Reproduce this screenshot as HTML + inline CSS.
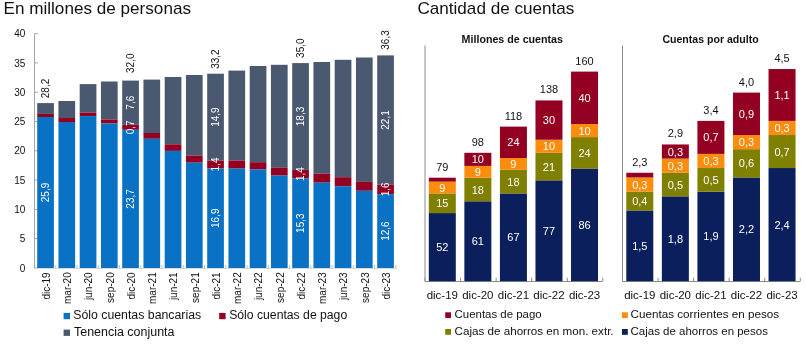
<!DOCTYPE html>
<html><head><meta charset="utf-8"><style>
html,body{margin:0;padding:0;background:#fff;width:806px;height:344px;overflow:hidden}
svg{display:block;font-family:"Liberation Sans", sans-serif;will-change:transform}
</style></head><body>
<svg width="806" height="344" viewBox="0 0 806 344">
<rect width="806" height="344" fill="#fff"/>
<text x="3.50" y="14.00" font-size="17" fill="#111111" text-anchor="start" font-weight="normal" textLength="187.5" lengthAdjust="spacingAndGlyphs">En millones de personas</text>
<text x="417.40" y="14.00" font-size="17" fill="#111111" text-anchor="start" font-weight="normal" textLength="157" lengthAdjust="spacingAndGlyphs">Cantidad de cuentas</text>
<line x1="34.5" y1="33.6" x2="34.5" y2="268.5" stroke="#A6A6A6" stroke-width="1"/>
<line x1="34.5" y1="268.0" x2="38.0" y2="268.0" stroke="#A6A6A6" stroke-width="1"/>
<text x="25.30" y="271.60" font-size="10" fill="#111111" text-anchor="end" font-weight="normal">0</text>
<line x1="34.5" y1="238.7" x2="38.0" y2="238.7" stroke="#A6A6A6" stroke-width="1"/>
<text x="25.30" y="242.30" font-size="10" fill="#111111" text-anchor="end" font-weight="normal">5</text>
<line x1="34.5" y1="209.4" x2="38.0" y2="209.4" stroke="#A6A6A6" stroke-width="1"/>
<text x="25.30" y="213.00" font-size="10" fill="#111111" text-anchor="end" font-weight="normal">10</text>
<line x1="34.5" y1="180.1" x2="38.0" y2="180.1" stroke="#A6A6A6" stroke-width="1"/>
<text x="25.30" y="183.70" font-size="10" fill="#111111" text-anchor="end" font-weight="normal">15</text>
<line x1="34.5" y1="150.8" x2="38.0" y2="150.8" stroke="#A6A6A6" stroke-width="1"/>
<text x="25.30" y="154.40" font-size="10" fill="#111111" text-anchor="end" font-weight="normal">20</text>
<line x1="34.5" y1="121.5" x2="38.0" y2="121.5" stroke="#A6A6A6" stroke-width="1"/>
<text x="25.30" y="125.10" font-size="10" fill="#111111" text-anchor="end" font-weight="normal">25</text>
<line x1="34.5" y1="92.19999999999999" x2="38.0" y2="92.19999999999999" stroke="#A6A6A6" stroke-width="1"/>
<text x="25.30" y="95.80" font-size="10" fill="#111111" text-anchor="end" font-weight="normal">30</text>
<line x1="34.5" y1="62.900000000000006" x2="38.0" y2="62.900000000000006" stroke="#A6A6A6" stroke-width="1"/>
<text x="25.30" y="66.50" font-size="10" fill="#111111" text-anchor="end" font-weight="normal">35</text>
<line x1="34.5" y1="33.599999999999994" x2="38.0" y2="33.599999999999994" stroke="#A6A6A6" stroke-width="1"/>
<text x="25.30" y="37.20" font-size="10" fill="#111111" text-anchor="end" font-weight="normal">40</text>
<rect x="37.20" y="103.10" width="16.70" height="10.80" fill="#4A5970"/>
<rect x="37.20" y="113.90" width="16.70" height="3.10" fill="#940021"/>
<rect x="37.20" y="117.00" width="16.70" height="151.60" fill="#0A72C4"/>
<text transform="translate(49.85,272.30) rotate(-90)" font-size="10" fill="#111111" text-anchor="end" font-weight="normal">dic-19</text>
<rect x="58.45" y="101.00" width="16.70" height="17.00" fill="#4A5970"/>
<rect x="58.45" y="118.00" width="16.70" height="4.00" fill="#940021"/>
<rect x="58.45" y="122.00" width="16.70" height="146.60" fill="#0A72C4"/>
<text transform="translate(71.10,272.30) rotate(-90)" font-size="10" fill="#111111" text-anchor="end" font-weight="normal">mar-20</text>
<rect x="79.70" y="84.10" width="16.70" height="28.60" fill="#4A5970"/>
<rect x="79.70" y="112.70" width="16.70" height="3.40" fill="#940021"/>
<rect x="79.70" y="116.10" width="16.70" height="152.50" fill="#0A72C4"/>
<text transform="translate(92.35,272.30) rotate(-90)" font-size="10" fill="#111111" text-anchor="end" font-weight="normal">jun-20</text>
<rect x="100.95" y="81.50" width="16.70" height="38.00" fill="#4A5970"/>
<rect x="100.95" y="119.50" width="16.70" height="4.00" fill="#940021"/>
<rect x="100.95" y="123.50" width="16.70" height="145.10" fill="#0A72C4"/>
<text transform="translate(113.60,272.30) rotate(-90)" font-size="10" fill="#111111" text-anchor="end" font-weight="normal">sep-20</text>
<rect x="122.20" y="80.60" width="16.70" height="44.20" fill="#4A5970"/>
<rect x="122.20" y="124.80" width="16.70" height="5.00" fill="#940021"/>
<rect x="122.20" y="129.80" width="16.70" height="138.80" fill="#0A72C4"/>
<text transform="translate(134.85,272.30) rotate(-90)" font-size="10" fill="#111111" text-anchor="end" font-weight="normal">dic-20</text>
<rect x="143.45" y="79.60" width="16.70" height="53.40" fill="#4A5970"/>
<rect x="143.45" y="133.00" width="16.70" height="5.80" fill="#940021"/>
<rect x="143.45" y="138.80" width="16.70" height="129.80" fill="#0A72C4"/>
<text transform="translate(156.10,272.30) rotate(-90)" font-size="10" fill="#111111" text-anchor="end" font-weight="normal">mar-21</text>
<rect x="164.70" y="77.00" width="16.70" height="67.30" fill="#4A5970"/>
<rect x="164.70" y="144.30" width="16.70" height="6.60" fill="#940021"/>
<rect x="164.70" y="150.90" width="16.70" height="117.70" fill="#0A72C4"/>
<text transform="translate(177.35,272.30) rotate(-90)" font-size="10" fill="#111111" text-anchor="end" font-weight="normal">jun-21</text>
<rect x="185.95" y="75.00" width="16.70" height="80.70" fill="#4A5970"/>
<rect x="185.95" y="155.70" width="16.70" height="7.00" fill="#940021"/>
<rect x="185.95" y="162.70" width="16.70" height="105.90" fill="#0A72C4"/>
<text transform="translate(198.60,272.30) rotate(-90)" font-size="10" fill="#111111" text-anchor="end" font-weight="normal">sep-21</text>
<rect x="207.20" y="73.70" width="16.70" height="86.80" fill="#4A5970"/>
<rect x="207.20" y="160.50" width="16.70" height="8.00" fill="#940021"/>
<rect x="207.20" y="168.50" width="16.70" height="100.10" fill="#0A72C4"/>
<text transform="translate(219.85,272.30) rotate(-90)" font-size="10" fill="#111111" text-anchor="end" font-weight="normal">dic-21</text>
<rect x="228.45" y="70.60" width="16.70" height="89.90" fill="#4A5970"/>
<rect x="228.45" y="160.50" width="16.70" height="8.10" fill="#940021"/>
<rect x="228.45" y="168.60" width="16.70" height="100.00" fill="#0A72C4"/>
<text transform="translate(241.10,272.30) rotate(-90)" font-size="10" fill="#111111" text-anchor="end" font-weight="normal">mar-22</text>
<rect x="249.70" y="66.00" width="16.70" height="96.20" fill="#4A5970"/>
<rect x="249.70" y="162.20" width="16.70" height="7.30" fill="#940021"/>
<rect x="249.70" y="169.50" width="16.70" height="99.10" fill="#0A72C4"/>
<text transform="translate(262.35,272.30) rotate(-90)" font-size="10" fill="#111111" text-anchor="end" font-weight="normal">jun-22</text>
<rect x="270.95" y="64.80" width="16.70" height="103.00" fill="#4A5970"/>
<rect x="270.95" y="167.80" width="16.70" height="7.80" fill="#940021"/>
<rect x="270.95" y="175.60" width="16.70" height="93.00" fill="#0A72C4"/>
<text transform="translate(283.60,272.30) rotate(-90)" font-size="10" fill="#111111" text-anchor="end" font-weight="normal">sep-22</text>
<rect x="292.20" y="63.10" width="16.70" height="106.80" fill="#4A5970"/>
<rect x="292.20" y="169.90" width="16.70" height="8.50" fill="#940021"/>
<rect x="292.20" y="178.40" width="16.70" height="90.20" fill="#0A72C4"/>
<text transform="translate(304.85,272.30) rotate(-90)" font-size="10" fill="#111111" text-anchor="end" font-weight="normal">dic-22</text>
<rect x="313.45" y="62.00" width="16.70" height="111.70" fill="#4A5970"/>
<rect x="313.45" y="173.70" width="16.70" height="9.00" fill="#940021"/>
<rect x="313.45" y="182.70" width="16.70" height="85.90" fill="#0A72C4"/>
<text transform="translate(326.10,272.30) rotate(-90)" font-size="10" fill="#111111" text-anchor="end" font-weight="normal">mar-23</text>
<rect x="334.70" y="59.80" width="16.70" height="117.40" fill="#4A5970"/>
<rect x="334.70" y="177.20" width="16.70" height="9.00" fill="#940021"/>
<rect x="334.70" y="186.20" width="16.70" height="82.40" fill="#0A72C4"/>
<text transform="translate(347.35,272.30) rotate(-90)" font-size="10" fill="#111111" text-anchor="end" font-weight="normal">jun-23</text>
<rect x="355.95" y="57.50" width="16.70" height="124.40" fill="#4A5970"/>
<rect x="355.95" y="181.90" width="16.70" height="8.90" fill="#940021"/>
<rect x="355.95" y="190.80" width="16.70" height="77.80" fill="#0A72C4"/>
<text transform="translate(368.60,272.30) rotate(-90)" font-size="10" fill="#111111" text-anchor="end" font-weight="normal">sep-23</text>
<rect x="377.20" y="55.40" width="16.70" height="129.20" fill="#4A5970"/>
<rect x="377.20" y="184.60" width="16.70" height="9.50" fill="#940021"/>
<rect x="377.20" y="194.10" width="16.70" height="74.50" fill="#0A72C4"/>
<text transform="translate(389.85,272.30) rotate(-90)" font-size="10" fill="#111111" text-anchor="end" font-weight="normal">dic-23</text>
<line x1="34.5" y1="268.5" x2="397" y2="268.5" stroke="#D9D9D9" stroke-width="1"/>
<line x1="55.75" y1="265.0" x2="55.75" y2="268.6" stroke="#BFBFBF" stroke-width="1"/>
<line x1="77.0" y1="265.0" x2="77.0" y2="268.6" stroke="#BFBFBF" stroke-width="1"/>
<line x1="98.25" y1="265.0" x2="98.25" y2="268.6" stroke="#BFBFBF" stroke-width="1"/>
<line x1="119.5" y1="265.0" x2="119.5" y2="268.6" stroke="#BFBFBF" stroke-width="1"/>
<line x1="140.75" y1="265.0" x2="140.75" y2="268.6" stroke="#BFBFBF" stroke-width="1"/>
<line x1="162.0" y1="265.0" x2="162.0" y2="268.6" stroke="#BFBFBF" stroke-width="1"/>
<line x1="183.25" y1="265.0" x2="183.25" y2="268.6" stroke="#BFBFBF" stroke-width="1"/>
<line x1="204.5" y1="265.0" x2="204.5" y2="268.6" stroke="#BFBFBF" stroke-width="1"/>
<line x1="225.75" y1="265.0" x2="225.75" y2="268.6" stroke="#BFBFBF" stroke-width="1"/>
<line x1="247.0" y1="265.0" x2="247.0" y2="268.6" stroke="#BFBFBF" stroke-width="1"/>
<line x1="268.25" y1="265.0" x2="268.25" y2="268.6" stroke="#BFBFBF" stroke-width="1"/>
<line x1="289.5" y1="265.0" x2="289.5" y2="268.6" stroke="#BFBFBF" stroke-width="1"/>
<line x1="310.75" y1="265.0" x2="310.75" y2="268.6" stroke="#BFBFBF" stroke-width="1"/>
<line x1="332.0" y1="265.0" x2="332.0" y2="268.6" stroke="#BFBFBF" stroke-width="1"/>
<line x1="353.25" y1="265.0" x2="353.25" y2="268.6" stroke="#BFBFBF" stroke-width="1"/>
<line x1="374.5" y1="265.0" x2="374.5" y2="268.6" stroke="#BFBFBF" stroke-width="1"/>
<line x1="395.75" y1="265.0" x2="395.75" y2="268.6" stroke="#BFBFBF" stroke-width="1"/>
<text transform="translate(49.35,98.20) rotate(-90)" font-size="10" fill="#111111" text-anchor="start" font-weight="normal">28,2</text>
<text transform="translate(134.35,73.00) rotate(-90)" font-size="10" fill="#111111" text-anchor="start" font-weight="normal">32,0</text>
<text transform="translate(219.35,68.80) rotate(-90)" font-size="10" fill="#111111" text-anchor="start" font-weight="normal">33,2</text>
<text transform="translate(304.35,57.90) rotate(-90)" font-size="10" fill="#111111" text-anchor="start" font-weight="normal">35,0</text>
<text transform="translate(389.35,49.70) rotate(-90)" font-size="10" fill="#111111" text-anchor="start" font-weight="normal">36,3</text>
<text transform="translate(49.15,192.50) rotate(-90)" font-size="10" fill="#fff" text-anchor="middle" font-weight="normal">25,9</text>
<text transform="translate(134.15,198.90) rotate(-90)" font-size="10" fill="#fff" text-anchor="middle" font-weight="normal">23,7</text>
<text transform="translate(134.15,127.30) rotate(-90)" font-size="10" fill="#fff" text-anchor="middle" font-weight="normal">0,7</text>
<text transform="translate(134.15,102.70) rotate(-90)" font-size="10" fill="#fff" text-anchor="middle" font-weight="normal">7,6</text>
<text transform="translate(219.15,218.25) rotate(-90)" font-size="10" fill="#fff" text-anchor="middle" font-weight="normal">16,9</text>
<text transform="translate(219.15,164.50) rotate(-90)" font-size="10" fill="#fff" text-anchor="middle" font-weight="normal">1,4</text>
<text transform="translate(219.15,117.10) rotate(-90)" font-size="10" fill="#fff" text-anchor="middle" font-weight="normal">14,9</text>
<text transform="translate(304.15,223.20) rotate(-90)" font-size="10" fill="#fff" text-anchor="middle" font-weight="normal">15,3</text>
<text transform="translate(304.15,174.15) rotate(-90)" font-size="10" fill="#fff" text-anchor="middle" font-weight="normal">1,4</text>
<text transform="translate(304.15,116.50) rotate(-90)" font-size="10" fill="#fff" text-anchor="middle" font-weight="normal">18,3</text>
<text transform="translate(389.15,231.05) rotate(-90)" font-size="10" fill="#fff" text-anchor="middle" font-weight="normal">12,6</text>
<text transform="translate(389.15,189.35) rotate(-90)" font-size="10" fill="#fff" text-anchor="middle" font-weight="normal">1,6</text>
<text transform="translate(389.15,120.00) rotate(-90)" font-size="10" fill="#fff" text-anchor="middle" font-weight="normal">22,1</text>
<rect x="63.60" y="312.90" width="6.40" height="6.30" fill="#0A72C4"/>
<text x="73.20" y="318.90" font-size="12" fill="#111111" text-anchor="start" font-weight="normal" textLength="128" lengthAdjust="spacingAndGlyphs">Sólo cuentas bancarias</text>
<rect x="219.20" y="312.90" width="6.40" height="6.30" fill="#940021"/>
<text x="229.20" y="318.90" font-size="12" fill="#111111" text-anchor="start" font-weight="normal" textLength="118" lengthAdjust="spacingAndGlyphs">Sólo cuentas de pago</text>
<rect x="63.60" y="329.60" width="6.40" height="6.30" fill="#4A5970"/>
<text x="74.00" y="335.90" font-size="12" fill="#111111" text-anchor="start" font-weight="normal" textLength="100.5" lengthAdjust="spacingAndGlyphs">Tenencia conjunta</text>
<text x="461.60" y="43.40" font-size="10.5" fill="#111111" text-anchor="start" font-weight="bold" textLength="101.4" lengthAdjust="spacingAndGlyphs">Millones de cuentas</text>
<line x1="425.0" y1="45.5" x2="425.0" y2="281.5" stroke="#8C8C8C" stroke-width="1"/>
<line x1="425.0" y1="281.5" x2="602.5" y2="281.5" stroke="#8C8C8C" stroke-width="1"/>
<line x1="425.0" y1="281.5" x2="425.0" y2="277.7" stroke="#8C8C8C" stroke-width="1"/>
<line x1="460.56" y1="281.5" x2="460.56" y2="277.7" stroke="#8C8C8C" stroke-width="1"/>
<line x1="496.12" y1="281.5" x2="496.12" y2="277.7" stroke="#8C8C8C" stroke-width="1"/>
<line x1="531.6800000000001" y1="281.5" x2="531.6800000000001" y2="277.7" stroke="#8C8C8C" stroke-width="1"/>
<line x1="567.24" y1="281.5" x2="567.24" y2="277.7" stroke="#8C8C8C" stroke-width="1"/>
<line x1="602.8" y1="281.5" x2="602.8" y2="277.7" stroke="#8C8C8C" stroke-width="1"/>
<rect x="428.80" y="213.08" width="27.00" height="68.12" fill="#0B1F5C"/>
<text x="442.30" y="251.14" font-size="11" fill="#fff" text-anchor="middle" font-weight="normal">52</text>
<rect x="428.80" y="193.43" width="27.00" height="19.65" fill="#7F7F00"/>
<text x="442.30" y="207.25" font-size="11" fill="#fff" text-anchor="middle" font-weight="normal">15</text>
<rect x="428.80" y="181.64" width="27.00" height="11.79" fill="#FB8C0C"/>
<text x="442.30" y="191.53" font-size="11" fill="#fff" text-anchor="middle" font-weight="normal">9</text>
<rect x="428.80" y="177.71" width="27.00" height="3.93" fill="#940021"/>
<text x="442.30" y="170.71" font-size="11" fill="#111111" text-anchor="middle" font-weight="normal">79</text>
<text x="442.30" y="298.90" font-size="11.5" fill="#111111" text-anchor="middle" font-weight="normal">dic-19</text>
<rect x="464.36" y="201.29" width="27.00" height="79.91" fill="#0B1F5C"/>
<text x="477.86" y="245.25" font-size="11" fill="#fff" text-anchor="middle" font-weight="normal">61</text>
<rect x="464.36" y="177.71" width="27.00" height="23.58" fill="#7F7F00"/>
<text x="477.86" y="193.50" font-size="11" fill="#fff" text-anchor="middle" font-weight="normal">18</text>
<rect x="464.36" y="165.92" width="27.00" height="11.79" fill="#FB8C0C"/>
<text x="477.86" y="175.81" font-size="11" fill="#fff" text-anchor="middle" font-weight="normal">9</text>
<rect x="464.36" y="152.82" width="27.00" height="13.10" fill="#940021"/>
<text x="477.86" y="163.37" font-size="11" fill="#fff" text-anchor="middle" font-weight="normal">10</text>
<text x="477.86" y="145.82" font-size="11" fill="#111111" text-anchor="middle" font-weight="normal">98</text>
<text x="477.86" y="298.90" font-size="11.5" fill="#111111" text-anchor="middle" font-weight="normal">dic-20</text>
<rect x="499.92" y="193.43" width="27.00" height="87.77" fill="#0B1F5C"/>
<text x="513.42" y="241.31" font-size="11" fill="#fff" text-anchor="middle" font-weight="normal">67</text>
<rect x="499.92" y="169.85" width="27.00" height="23.58" fill="#7F7F00"/>
<text x="513.42" y="185.64" font-size="11" fill="#fff" text-anchor="middle" font-weight="normal">18</text>
<rect x="499.92" y="158.06" width="27.00" height="11.79" fill="#FB8C0C"/>
<text x="513.42" y="167.95" font-size="11" fill="#fff" text-anchor="middle" font-weight="normal">9</text>
<rect x="499.92" y="126.62" width="27.00" height="31.44" fill="#940021"/>
<text x="513.42" y="146.34" font-size="11" fill="#fff" text-anchor="middle" font-weight="normal">24</text>
<text x="513.42" y="119.62" font-size="11" fill="#111111" text-anchor="middle" font-weight="normal">118</text>
<text x="513.42" y="298.90" font-size="11.5" fill="#111111" text-anchor="middle" font-weight="normal">dic-21</text>
<rect x="535.48" y="180.33" width="27.00" height="100.87" fill="#0B1F5C"/>
<text x="548.98" y="234.76" font-size="11" fill="#fff" text-anchor="middle" font-weight="normal">77</text>
<rect x="535.48" y="152.82" width="27.00" height="27.51" fill="#7F7F00"/>
<text x="548.98" y="170.57" font-size="11" fill="#fff" text-anchor="middle" font-weight="normal">21</text>
<rect x="535.48" y="139.72" width="27.00" height="13.10" fill="#FB8C0C"/>
<text x="548.98" y="150.27" font-size="11" fill="#fff" text-anchor="middle" font-weight="normal">10</text>
<rect x="535.48" y="100.42" width="27.00" height="39.30" fill="#940021"/>
<text x="548.98" y="124.07" font-size="11" fill="#fff" text-anchor="middle" font-weight="normal">30</text>
<text x="548.98" y="93.42" font-size="11" fill="#111111" text-anchor="middle" font-weight="normal">138</text>
<text x="548.98" y="298.90" font-size="11.5" fill="#111111" text-anchor="middle" font-weight="normal">dic-22</text>
<rect x="571.04" y="168.54" width="27.00" height="112.66" fill="#0B1F5C"/>
<text x="584.54" y="228.87" font-size="11" fill="#fff" text-anchor="middle" font-weight="normal">86</text>
<rect x="571.04" y="137.10" width="27.00" height="31.44" fill="#7F7F00"/>
<text x="584.54" y="156.82" font-size="11" fill="#fff" text-anchor="middle" font-weight="normal">24</text>
<rect x="571.04" y="124.00" width="27.00" height="13.10" fill="#FB8C0C"/>
<text x="584.54" y="134.55" font-size="11" fill="#fff" text-anchor="middle" font-weight="normal">10</text>
<rect x="571.04" y="71.60" width="27.00" height="52.40" fill="#940021"/>
<text x="584.54" y="101.80" font-size="11" fill="#fff" text-anchor="middle" font-weight="normal">40</text>
<text x="584.54" y="64.60" font-size="11" fill="#111111" text-anchor="middle" font-weight="normal">160</text>
<text x="584.54" y="298.90" font-size="11.5" fill="#111111" text-anchor="middle" font-weight="normal">dic-23</text>
<text x="662.40" y="43.40" font-size="10.5" fill="#111111" text-anchor="start" font-weight="bold" textLength="96.3" lengthAdjust="spacingAndGlyphs">Cuentas por adulto</text>
<line x1="622.5" y1="45.5" x2="622.5" y2="281.5" stroke="#8C8C8C" stroke-width="1"/>
<line x1="622.5" y1="281.5" x2="800.0" y2="281.5" stroke="#8C8C8C" stroke-width="1"/>
<line x1="622.5" y1="281.5" x2="622.5" y2="277.7" stroke="#8C8C8C" stroke-width="1"/>
<line x1="658.06" y1="281.5" x2="658.06" y2="277.7" stroke="#8C8C8C" stroke-width="1"/>
<line x1="693.62" y1="281.5" x2="693.62" y2="277.7" stroke="#8C8C8C" stroke-width="1"/>
<line x1="729.1800000000001" y1="281.5" x2="729.1800000000001" y2="277.7" stroke="#8C8C8C" stroke-width="1"/>
<line x1="764.74" y1="281.5" x2="764.74" y2="277.7" stroke="#8C8C8C" stroke-width="1"/>
<line x1="800.3" y1="281.5" x2="800.3" y2="277.7" stroke="#8C8C8C" stroke-width="1"/>
<rect x="626.30" y="210.47" width="27.00" height="70.72" fill="#0B1F5C"/>
<text x="639.80" y="249.84" font-size="11" fill="#fff" text-anchor="middle" font-weight="normal">1,5</text>
<rect x="626.30" y="191.62" width="27.00" height="18.86" fill="#7F7F00"/>
<text x="639.80" y="205.04" font-size="11" fill="#fff" text-anchor="middle" font-weight="normal">0,4</text>
<rect x="626.30" y="177.47" width="27.00" height="14.14" fill="#FB8C0C"/>
<text x="639.80" y="188.54" font-size="11" fill="#fff" text-anchor="middle" font-weight="normal">0,3</text>
<rect x="626.30" y="172.75" width="27.00" height="4.71" fill="#940021"/>
<text x="639.80" y="165.75" font-size="11" fill="#111111" text-anchor="middle" font-weight="normal">2,3</text>
<text x="639.80" y="298.90" font-size="11.5" fill="#111111" text-anchor="middle" font-weight="normal">dic-19</text>
<rect x="661.86" y="196.33" width="27.00" height="84.87" fill="#0B1F5C"/>
<text x="675.36" y="242.76" font-size="11" fill="#fff" text-anchor="middle" font-weight="normal">1,8</text>
<rect x="661.86" y="172.75" width="27.00" height="23.57" fill="#7F7F00"/>
<text x="675.36" y="188.54" font-size="11" fill="#fff" text-anchor="middle" font-weight="normal">0,5</text>
<rect x="661.86" y="158.61" width="27.00" height="14.14" fill="#FB8C0C"/>
<text x="675.36" y="169.68" font-size="11" fill="#fff" text-anchor="middle" font-weight="normal">0,3</text>
<rect x="661.86" y="144.46" width="27.00" height="14.14" fill="#940021"/>
<text x="675.36" y="155.54" font-size="11" fill="#fff" text-anchor="middle" font-weight="normal">0,3</text>
<text x="675.36" y="137.46" font-size="11" fill="#111111" text-anchor="middle" font-weight="normal">2,9</text>
<text x="675.36" y="298.90" font-size="11.5" fill="#111111" text-anchor="middle" font-weight="normal">dic-20</text>
<rect x="697.42" y="191.62" width="27.00" height="89.58" fill="#0B1F5C"/>
<text x="710.92" y="240.41" font-size="11" fill="#fff" text-anchor="middle" font-weight="normal">1,9</text>
<rect x="697.42" y="168.04" width="27.00" height="23.57" fill="#7F7F00"/>
<text x="710.92" y="183.83" font-size="11" fill="#fff" text-anchor="middle" font-weight="normal">0,5</text>
<rect x="697.42" y="153.90" width="27.00" height="14.14" fill="#FB8C0C"/>
<text x="710.92" y="164.97" font-size="11" fill="#fff" text-anchor="middle" font-weight="normal">0,3</text>
<rect x="697.42" y="120.89" width="27.00" height="33.00" fill="#940021"/>
<text x="710.92" y="141.39" font-size="11" fill="#fff" text-anchor="middle" font-weight="normal">0,7</text>
<text x="710.92" y="113.89" font-size="11" fill="#111111" text-anchor="middle" font-weight="normal">3,4</text>
<text x="710.92" y="298.90" font-size="11.5" fill="#111111" text-anchor="middle" font-weight="normal">dic-21</text>
<rect x="732.98" y="177.47" width="27.00" height="103.73" fill="#0B1F5C"/>
<text x="746.48" y="233.33" font-size="11" fill="#fff" text-anchor="middle" font-weight="normal">2,2</text>
<rect x="732.98" y="149.18" width="27.00" height="28.29" fill="#7F7F00"/>
<text x="746.48" y="167.32" font-size="11" fill="#fff" text-anchor="middle" font-weight="normal">0,6</text>
<rect x="732.98" y="135.03" width="27.00" height="14.14" fill="#FB8C0C"/>
<text x="746.48" y="146.11" font-size="11" fill="#fff" text-anchor="middle" font-weight="normal">0,3</text>
<rect x="732.98" y="92.60" width="27.00" height="42.44" fill="#940021"/>
<text x="746.48" y="117.82" font-size="11" fill="#fff" text-anchor="middle" font-weight="normal">0,9</text>
<text x="746.48" y="85.60" font-size="11" fill="#111111" text-anchor="middle" font-weight="normal">4,0</text>
<text x="746.48" y="298.90" font-size="11.5" fill="#111111" text-anchor="middle" font-weight="normal">dic-22</text>
<rect x="768.54" y="168.04" width="27.00" height="113.16" fill="#0B1F5C"/>
<text x="782.04" y="228.62" font-size="11" fill="#fff" text-anchor="middle" font-weight="normal">2,4</text>
<rect x="768.54" y="135.03" width="27.00" height="33.00" fill="#7F7F00"/>
<text x="782.04" y="155.54" font-size="11" fill="#fff" text-anchor="middle" font-weight="normal">0,7</text>
<rect x="768.54" y="120.89" width="27.00" height="14.14" fill="#FB8C0C"/>
<text x="782.04" y="131.96" font-size="11" fill="#fff" text-anchor="middle" font-weight="normal">0,3</text>
<rect x="768.54" y="69.03" width="27.00" height="51.87" fill="#940021"/>
<text x="782.04" y="98.96" font-size="11" fill="#fff" text-anchor="middle" font-weight="normal">1,1</text>
<text x="782.04" y="62.03" font-size="11" fill="#111111" text-anchor="middle" font-weight="normal">4,5</text>
<text x="782.04" y="298.90" font-size="11.5" fill="#111111" text-anchor="middle" font-weight="normal">dic-23</text>
<rect x="445.20" y="312.30" width="5.80" height="5.80" fill="#940021"/>
<text x="454.60" y="317.90" font-size="11.6" fill="#111111" text-anchor="start" font-weight="normal" textLength="87" lengthAdjust="spacingAndGlyphs">Cuentas de pago</text>
<rect x="445.20" y="329.00" width="5.80" height="5.80" fill="#7F7F00"/>
<text x="454.60" y="334.90" font-size="11.6" fill="#111111" text-anchor="start" font-weight="normal" textLength="159" lengthAdjust="spacingAndGlyphs">Cajas de ahorros en mon. extr.</text>
<rect x="622.00" y="312.30" width="5.80" height="5.80" fill="#FB8C0C"/>
<text x="630.50" y="317.90" font-size="11.6" fill="#111111" text-anchor="start" font-weight="normal" textLength="148.6" lengthAdjust="spacingAndGlyphs">Cuentas corrientes en pesos</text>
<rect x="622.00" y="329.00" width="5.80" height="5.80" fill="#0B1F5C"/>
<text x="630.50" y="334.90" font-size="11.6" fill="#111111" text-anchor="start" font-weight="normal" textLength="137.4" lengthAdjust="spacingAndGlyphs">Cajas de ahorros en pesos</text>
</svg>
</body></html>
